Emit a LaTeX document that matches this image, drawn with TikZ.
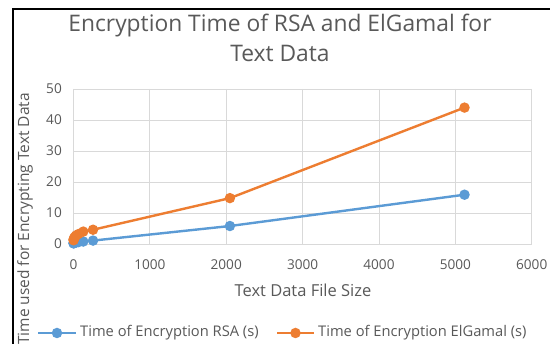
\documentclass[tikz,border=0pt]{standalone}
\usepackage{fontspec}
\setmainfont{Open Sans}
\definecolor{txt}{HTML}{595959}
\definecolor{grid}{HTML}{D9D9D9}
\definecolor{rsa}{HTML}{5B9BD5}
\definecolor{elg}{HTML}{ED7D31}
\begin{document}
\begin{tikzpicture}[x=1pt,y=-1pt,
  tick/.style={text=txt,font=\fontsize{13.6}{17}\selectfont,inner sep=0pt},
  leg/.style={text=txt,font=\fontsize{14.7}{17}\selectfont,inner sep=0pt},
  gridline/.style={draw=grid,line width=0.9pt},
  series/.style={line width=2.4pt,line join=round},
  dot/.style={circle,fill=#1,inner sep=0pt,minimum size=10.5pt}]
\useasboundingbox (0,0) rectangle (550,344);
\fill[white] (0,0) rectangle (550,344);
% frame
\draw[black,line width=2pt] (12.5,344) -- (12.5,9.5) -- (550,9.5);
% title
\node[text=txt,font=\fontsize{22.8}{30}\selectfont,align=center,inner sep=0pt] (title) at (280,38)
  {Encryption Time of RSA and ElGamal for\\Text Data};
% grid
\foreach \v in {1,...,5} \draw[gridline] (73.5,{244-31*\v}) -- (531.7,{244-31*\v});
\foreach \k in {1,...,6} \draw[gridline] ({73.5+76.37*\k},89) -- ({73.5+76.37*\k},244);
\draw[gridline] (73.5,89) -- (73.5,244) -- (531.7,244);
% tick labels
\foreach \v in {0,10,...,50} \node[tick,anchor=east] (y\v) at (62,{244-3.1*\v}) {\v};
\foreach \k in {0,...,6} \node[tick] (x\k) at ({73.5+76.37*\k},265) {\the\numexpr\k*1000\relax};
% axis titles
\node[leg,font=\fontsize{16.5}{17}\selectfont] (xt) at (303,290) {Text Data File Size};
\node[leg,font=\fontsize{15.5}{17}\selectfont,rotate=90] (yt) at (25,219) {Time used for Encrypting Text Data};
% data
\def\px#1{73.5+0.07637*#1}
\def\py#1{244-3.1*#1}
\draw[series,draw=rsa] plot coordinates {
 ({\px{1}},{\py{0.2}}) ({\px{2}},{\py{0.25}}) ({\px{4}},{\py{0.3}}) ({\px{8}},{\py{0.35}})
 ({\px{16}},{\py{0.4}}) ({\px{32}},{\py{0.5}}) ({\px{64}},{\py{0.6}}) ({\px{128}},{\py{0.8}})
 ({\px{256}},{\py{1.1}}) ({\px{2048}},{\py{5.8}}) ({\px{5120}},{\py{15.9}})};
\foreach \a/\b in {1/0.2,2/0.25,4/0.3,8/0.35,16/0.4,32/0.5,64/0.6,128/0.8,256/1.1,2048/5.8,5120/15.9}
  \node[dot=rsa] at ({\px{\a}},{\py{\b}}) {};
\draw[series,draw=elg] plot coordinates {
 ({\px{1}},{\py{1.2}}) ({\px{2}},{\py{1.4}}) ({\px{4}},{\py{1.6}}) ({\px{8}},{\py{1.9}})
 ({\px{16}},{\py{2.2}}) ({\px{32}},{\py{2.7}}) ({\px{64}},{\py{3.2}}) ({\px{128}},{\py{4.0}})
 ({\px{256}},{\py{4.6}}) ({\px{2048}},{\py{14.8}}) ({\px{5120}},{\py{44.0}})};
\foreach \a/\b in {1/1.2,2/1.4,4/1.6,8/1.9,16/2.2,32/2.7,64/3.2,128/4.0,256/4.6,2048/14.8,5120/44.0}
  \node[dot=elg] at ({\px{\a}},{\py{\b}}) {};
% legend
\coordinate (l1a) at (38,333); \coordinate (l1b) at (76,333);
\draw[series,draw=rsa] (l1a) -- (l1b);
\node[dot=rsa] (m1) at (57,333) {};
\node[leg,anchor=west] (lt1) at (80,333) {Time of Encryption RSA (s)};
\coordinate (l2a) at (277,333); \coordinate (l2b) at (314,333);
\draw[series,draw=elg] (l2a) -- (l2b);
\node[dot=elg] (m2) at (295.5,333) {};
\node[leg,anchor=west] (lt2) at (318,333) {Time of Encryption ElGamal (s)};
\end{tikzpicture}
\end{document}
